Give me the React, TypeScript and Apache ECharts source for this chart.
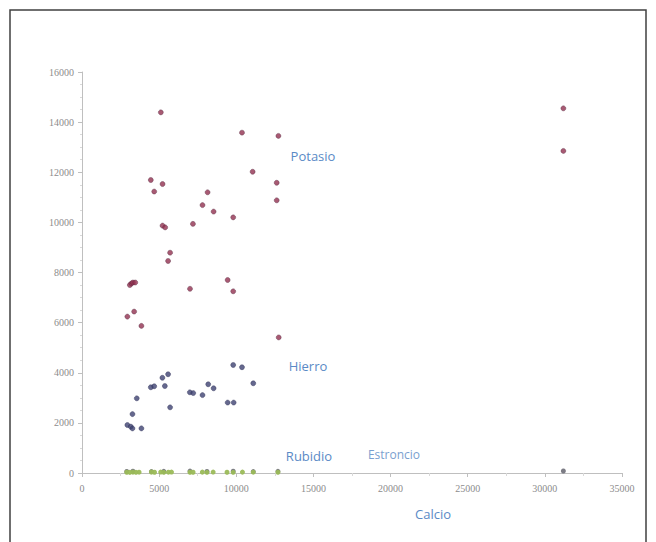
import React, { useEffect, useRef } from "react";
import * as echarts from "echarts";

const xTicks = [0, 5000, 10000, 15000, 20000, 25000, 30000, 35000];
const yTicks = [0, 2000, 4000, 6000, 8000, 10000, 12000, 14000, 16000];

const potasioCalcio = [5110, 10370, 12730, 11060, 12620, 12620, 4460, 5220, 4680, 8140, 7810, 8530, 9800, 5220, 5390, 7190, 5710, 5580, 3100, 3200, 3300, 3450, 9440, 7000, 9800, 2940, 3380, 3850, 12750, 31200, 31200];
const potasio = [14390, 13580, 13450, 12020, 11580, 10880, 11690, 11530, 11230, 11200, 10690, 10430, 10200, 9870, 9800, 9940, 8790, 8460, 7500, 7560, 7600, 7600, 7700, 7350, 7250, 6240, 6440, 5870, 5410, 14550, 12850];

const hierroCalcio = [2940, 3160, 3270, 3270, 3850, 3550, 4460, 4680, 5210, 5580, 5370, 5710, 6990, 7210, 7810, 8180, 8530, 9440, 9830, 9800, 10370, 11100];
const hierro = [1915, 1850, 1780, 2350, 1780, 2980, 3420, 3460, 3800, 3940, 3470, 2620, 3220, 3190, 3110, 3540, 3380, 2810, 2810, 4310, 4220, 3580];

const rubidioCalcio = [2900, 3100, 3300, 3500, 3700, 4500, 4700, 5100, 5300, 5600, 5800, 7000, 7200, 7800, 8100, 8500, 9400, 9800, 10400, 11100, 12700];
const rubidio = [30, 25, 35, 28, 32, 40, 30, 36, 27, 33, 38, 29, 31, 34, 26, 37, 30, 28, 35, 32, 30];

const estroncioCalcio = [2900, 3300, 4500, 5300, 7000, 8100, 9800, 11100, 12700, 31200];
const estroncio = [60, 70, 55, 65, 75, 60, 70, 58, 66, 80];

const zip = (xs: number[], ys: number[]) => xs.map((x, i) => [x, ys[i]]);

export default function App() {
  const ref = useRef<HTMLDivElement>(null);
  useEffect(() => {
    if (!ref.current) return;
    const chart = echarts.init(ref.current, null, { renderer: "svg" });
    const axisColor = "#bfbfbf";
    const labelColor = "#8c8c8c";
    const textColor = "#5a8ac6";
    const fmt = (v: number) => String(v);
    chart.setOption({
      animation: false,
      backgroundColor: "#ffffff",
      grid: { left: 82, right: 34, top: 72, bottom: 69 },
      xAxis: {
        type: "value",
        min: xTicks[0],
        max: xTicks[xTicks.length - 1],
        interval: 5000,
        axisLine: { show: true, onZero: false, lineStyle: { color: axisColor, width: 1 } },
        axisTick: { show: true, length: 4, lineStyle: { color: axisColor } },
        minorTick: { show: true, splitNumber: 2, length: 3, lineStyle: { color: "#d9d9d9" } },
        splitLine: { show: false },
        axisLabel: { color: labelColor, fontSize: 10, fontFamily: "Liberation Serif", margin: 10, formatter: fmt },
      },
      yAxis: {
        type: "value",
        min: yTicks[0],
        max: yTicks[yTicks.length - 1],
        interval: 2000,
        axisLine: { show: true, lineStyle: { color: axisColor, width: 1 } },
        axisTick: { show: true, length: 4, lineStyle: { color: axisColor } },
        minorTick: { show: true, splitNumber: 4, length: 2, lineStyle: { color: "#d9d9d9" } },
        splitLine: { show: false },
        axisLabel: { color: labelColor, fontSize: 10, fontFamily: "Liberation Serif", margin: 8, formatter: fmt },
      },
      series: [
        {
          name: "Estroncio",
          type: "scatter",
          symbolSize: 5,
          data: zip(estroncioCalcio, estroncio),
          itemStyle: { color: "#6e6e78", opacity: 0.9 },
        },
        {
          name: "Rubidio",
          type: "scatter",
          symbolSize: 5,
          data: zip(rubidioCalcio, rubidio),
          itemStyle: { color: "#9bbb59", opacity: 0.95 },
        },
        {
          name: "Hierro",
          type: "scatter",
          symbolSize: 5,
          data: zip(hierroCalcio, hierro),
          itemStyle: { color: "#3e4272", borderColor: "#2d2f55", borderWidth: 0.5 },
        },
        {
          name: "Potasio",
          type: "scatter",
          symbolSize: 5,
          data: zip(potasioCalcio, potasio),
          itemStyle: { color: "#923150", borderColor: "#55283f", borderWidth: 0.5 },
        },
      ],
      graphic: [
        {
          type: "rect",
          shape: { x: 10, y: 10, width: 636, height: 545 },
          style: { fill: "none", stroke: "#404040", lineWidth: 1.5 },
          silent: true,
        },
        {
          type: "text",
          x: 313, y: 156,
          style: { text: "Potasio", fill: textColor, font: "13px 'Open Sans'", textAlign: "center", textVerticalAlign: "middle" },
        },
        {
          type: "text",
          x: 308, y: 366,
          style: { text: "Hierro", fill: textColor, font: "13px 'Open Sans'", textAlign: "center", textVerticalAlign: "middle" },
        },
        {
          type: "text",
          x: 309, y: 456,
          style: { text: "Rubidio", fill: textColor, font: "13px 'Open Sans'", textAlign: "center", textVerticalAlign: "middle" },
        },
        {
          type: "text",
          x: 394, y: 454,
          style: { text: "Estroncio", fill: "#7a9fcf", font: "12px 'Open Sans'", textAlign: "center", textVerticalAlign: "middle" },
        },
        {
          type: "text",
          x: 433, y: 514,
          style: { text: "Calcio", fill: textColor, font: "13px 'Open Sans'", textAlign: "center", textVerticalAlign: "middle" },
        },
      ],
    });
    return () => chart.dispose();
  }, []);
  return (
    <div
      ref={ref}
      style={{ position: "fixed", left: 0, top: 0, width: 656, height: 542 }}
    />
  );
}
